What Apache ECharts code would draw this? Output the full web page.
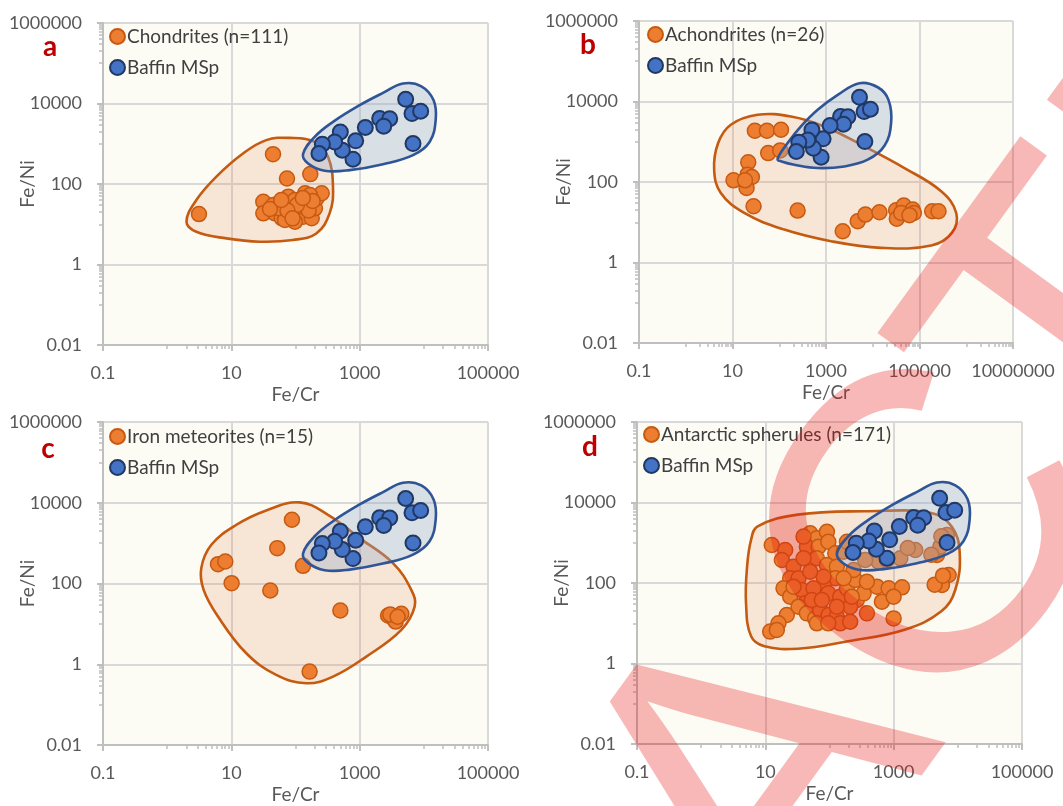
<!DOCTYPE html>
<html><head><meta charset="utf-8">
<script src="https://cdn.jsdelivr.net/npm/echarts@6/dist/echarts.min.js"></script>
<style>html,body{margin:0;padding:0;background:#fff}#c{width:1063px;height:806px}</style>
</head><body><div id="c"></div>
<script>
// ---- tick values ----
const xTicks = [0.1, 10, 1000, 100000];
const xTicksB = [0.1, 10, 1000, 100000, 10000000];
const yTicks = [0.01, 1, 100, 10000, 1000000];
const xMinor = [1, 2, 3, 4, 5, 6, 7, 8, 9, 100, 200, 300, 400, 500, 600, 700, 800, 900, 10000, 20000, 30000, 40000, 50000, 60000, 70000, 80000, 90000];
const xMinorB = [1, 2, 3, 4, 5, 6, 7, 8, 9, 100, 200, 300, 400, 500, 600, 700, 800, 900, 10000, 20000, 30000, 40000, 50000, 60000, 70000, 80000, 90000, 1000000, 2000000, 3000000, 4000000, 5000000, 6000000, 7000000, 8000000, 9000000];
const yMinor = [0.1, 0.2, 0.3, 0.4, 0.5, 0.6, 0.7, 0.8, 0.9, 10, 20, 30, 40, 50, 60, 70, 80, 90, 1000, 2000, 3000, 4000, 5000, 6000, 7000, 8000, 9000, 100000, 200000, 300000, 400000, 500000, 600000, 700000, 800000, 900000];

// ---- series names ----
const panelLetters = ['a', 'b', 'c', 'd'];
const groupNames = ['Chondrites (n=111)', 'Achondrites (n=26)', 'Iron meteorites (n=15)', 'Antarctic spherules (n=171)'];
const baffinName = 'Baffin MSp';
const watermarkText = 'RETRACTED';

// ---- data [Fe/Cr, Fe/Ni] ----
const baffin = [[5210,12760],[6540,5620],[8930,6440],[6780,1010],[2050,4230],[2940,4200],[2370,2730],[1225,2530],[867,1180],[787,414],[500,1970],[537,692],[408,1110],[262,975],[232,573]];

const chondrites = [[3.13,17.9],[44.6,551],[73.7,137],[170,176],[31.5,36.3],[31.5,18.7],[45,30],[47.9,18.7],[61,14.1],[77.3,48.4],[68.5,33],[87.3,27.3],[82,18.7],[98,40],[111,20.5],[141,58.8],[149,33],[132,15.4],[179,14.1],[201,24.9],[214,44.2],[256,58.8],[168,53.3],[98,11.6],[68.5,12.8],[55,25],[120,28],[160,22],[185,38],[105,30],[75,22],[40,24],[60,40],[130,45],[90,14]];

const achondrites = [[30.1,1880],[54.5,1880],[109,1990],[58,524],[105,610],[21.7,308],[10.5,110],[20.9,152],[26,133],[20,71],[28.2,25],[247,19.5],[2280,5.98],[4770,10.6],[6970,15.5],[13900,17.7],[31600,19.9],[32700,12.3],[46100,25.9],[71900,20.6],[75600,17],[187000,18.8],[255000,18.8],[40500,17],[18.5,110],[61000,15]];

const irons = [[88,3790],[52,751],[6.2,301],[8.05,351],[10.1,102],[40.5,67],[131,274],[500,21.4],[2770,16.1],[3300,13.8],[3640,11.4],[4460,17.7],[166,0.657],[3000,17],[3900,15]];

const spherules = [[12.6,879],[20.4,661],[18.1,372],[27.5,255],[24.4,131],[19.2,73.6],[24.4,45.7],[21.6,16],[16,9.96],[11.9,6.2],[15.1,6.8],[32.9,131],[37,67],[41.8,31.3],[32.9,25.8],[44.4,17.6],[59.8,13.2],[71.6,21.3],[96.6,16],[130,14.6],[147,9.96],[210,10.9],[50,1710],[63.5,1290],[91,1880],[44.4,800],[67.5,800],[95.7,1060],[123,546],[63.5,410],[91,280],[130,255],[123,131],[80.7,89],[56.4,73.6],[95.7,55.3],[147,45.7],[187,73.6],[252,119],[267,37.8],[383,17.6],[340,55.3],[237,210],[166,600],[187,1060],[548,81],[834,73.6],[1350,78],[656,34.4],[998,45.7],[998,13.2],[2170,661],[582,339],[785,372],[1270,410],[4730,497],[5330,800],[6780,1560],[7190,158],[5660,89],[360,372],[63.5,9.96],[95.7,9.96],[53,37.8],[76,37.8],[210,25.8],[39.4,1420],[80.7,144],[166,131],[39.4,410],[383,108],[27.5,81],[50,191],[223,45.7],[130,25.8],[1660,741],[3860,506],[5530,1450],[4350,91],[5870,152]];

// ---- hull outlines [Fe/Cr, Fe/Ni] ----
const hullBaffin = [[131,551],[199,1480],[384,3490],[1000,9060],[2310,18300],[4730,31300],[9140,26800],[14200,12000],[15300,3850],[12300,1110],[6780,520],[2310,311],[698,221],[285,213],[157,324]];
const hullBaffinB = [[92,372],[151,927],[291,2400],[663,6210],[1780,14600],[5180,28500],[12800,22600],[21700,11000],[24700,2900],[17800,796],[7810,358],[2470,244],[663,222],[210,269],[112,325]];
const hullChond = [[2.0,11.5],[2.85,40],[5.8,151],[15.2,573],[35,1230],[81,1400],[199,1110],[321,473],[384,85],[340,18.6],[211,5.9],[91,4.05],[27.7,3.68],[8.4,4.45],[2.85,6.5]];
const hullAchond = [[4.05,202],[4.93,927],[9.2,2640],[34.3,4670],[178,4250],[921,2400],[6630,766],[47700,222],[291000,58.8],[611000,17],[493000,5.45],[178000,2.64],[15100,2.31],[1280,3.38],[128,6.58],[17.8,17],[5.62,53.3]];
const hullIron = [[3.4,240],[4.88,910],[12,2850],[35,6460],[116,10200],[321,5040],[1000,1330],[3300,319],[6380,69.7],[7200,26.9],[4460,7.1],[1270,1.55],[384,0.494],[148,0.338],[50,0.545],[17.1,1.87],[6.2,15.2],[3.7,69.7]];
const hullSpher = [[7.6,2560],[32.1,4990],[352,6040],[3860,5480],[8110,2460],[10700,556],[9140,68],[5530,19.8],[1480,6.9],[194,3.56],[32.1,2.33],[9.7,2.67],[6.0,4.73],[5.0,31.8],[5.2,260],[6.0,1190]];

// ---- styling ----
const FONT = 'Lato, "Open Sans", sans-serif';
const ORANGE = '#ED7D31', ORANGE_EDGE = '#C55A11';
const BLUE = '#4472C4', BLUE_EDGE = '#203864';
const HULL_O_LINE = '#C55A11', HULL_O_FILL = 'rgba(230,140,90,0.2)';
const HULL_B_LINE = '#2F5597', HULL_B_FILL = 'rgba(150,170,200,0.35)';
const AXIS_C = '#BFBFBF', GRID_C = '#D9D9D9', LABEL_C = '#595959';

const grids = [
  {left:103, top:23, width:385, height:322},
  {left:639, top:21, width:374, height:322},
  {left:103, top:422, width:385, height:323},
  {left:637, top:422, width:385, height:322}
];
const xMax = [100000, 10000000, 100000, 100000];
const groups = [chondrites, achondrites, irons, spherules];
const orangeHulls = [hullChond, hullAchond, hullIron, hullSpher];
const blueHulls = [hullBaffin, hullBaffinB, hullBaffin, hullBaffin];
const legendPos = [[104,22],[642,20],[104,422],[638,420]];
const letterPos = [[50,47],[588,45],[48,449],[590,447]];

const fmt = v => String(+(+v).toPrecision(6));

const option = {
  backgroundColor: '#ffffff',
  animation: false,
  grid: grids.map(g => Object.assign({show:true, backgroundColor:'#FCFCF5', borderWidth:0, containLabel:false, outerBoundsMode:'none'}, g)),
  xAxis: [], yAxis: [], series: [], legend: [],
  graphic: []
};

for (let i = 0; i < 4; i++) {
  const xt = i === 1 ? xTicksB : xTicks;
  option.xAxis.push({
    type:'log', logBase:10, gridIndex:i, min:0.1, max:xMax[i], position:'bottom',
    name:'Fe/Cr', nameLocation:'middle', nameGap:40, nameMoveOverlap:false,
    nameTextStyle:{fontFamily:FONT, fontSize:19, color:LABEL_C},
    axisLine:{show:true, onZero:false, lineStyle:{color:AXIS_C, width:2}},
    axisTick:{show:true, customValues:xt, length:6, lineStyle:{color:AXIS_C, width:2}},
    axisLabel:{show:true, customValues:xt, formatter:fmt, margin:19, fontFamily:FONT, fontSize:18, color:LABEL_C},
    splitLine:{show:true, lineStyle:{color:GRID_C, width:2}},
    minorTick:{show:false}, minorSplitLine:{show:false}
  });
  option.yAxis.push({
    type:'log', logBase:10, gridIndex:i, min:0.01, max:1000000, position:'left',
    name:'Fe/Ni', nameLocation:'middle', nameGap:66, nameMoveOverlap:false,
    nameTextStyle:{fontFamily:FONT, fontSize:19, color:LABEL_C},
    axisLine:{show:true, onZero:false, lineStyle:{color:AXIS_C, width:2}},
    axisTick:{show:true, customValues:yTicks, length:6, lineStyle:{color:AXIS_C, width:2}},
    axisLabel:{show:true, customValues:yTicks, formatter:fmt, margin:21, fontFamily:FONT, fontSize:18, color:LABEL_C},
    splitLine:{show:true, lineStyle:{color:GRID_C, width:2}}
  });
}
for (let i = 0; i < 4; i++) {
  const xm = i === 1 ? xMinorB : xMinor;
  option.xAxis.push({
    type:'log', logBase:10, gridIndex:i, min:0.1, max:xMax[i], position:'bottom', offset:0,
    axisLine:{show:false}, axisLabel:{show:false}, splitLine:{show:false},
    axisTick:{show:true, customValues:xm, length:4, lineStyle:{color:AXIS_C, width:1.5}}
  });
  option.yAxis.push({
    type:'log', logBase:10, gridIndex:i, min:0.01, max:1000000, position:'left', offset:0,
    axisLine:{show:false}, axisLabel:{show:false}, splitLine:{show:false},
    axisTick:{show:true, customValues:yMinor, length:4, lineStyle:{color:AXIS_C, width:1.5}}
  });
}

function hull(points, idx, stroke, fill, z) {
  return {
    type:'custom', xAxisIndex:idx, yAxisIndex:idx, z:z, silent:true, clip:false,
    data: points,
    renderItem: function (params, api) {
      if (params.dataIndex !== 0) return null;
      return {
        type:'polygon',
        shape:{points: points.map(p => api.coord(p)), smooth:0.4},
        style:{fill:fill, stroke:stroke, lineWidth:2.6}
      };
    }
  };
}

for (let i = 0; i < 4; i++) {
  option.series.push(hull(orangeHulls[i], i, HULL_O_LINE, HULL_O_FILL, 1));
  option.series.push({
    type:'scatter', name:groupNames[i], xAxisIndex:i, yAxisIndex:i, z:2,
    data:groups[i], symbol:'circle', symbolSize:15,
    itemStyle:{color:ORANGE, borderColor:ORANGE_EDGE, borderWidth:1.5, opacity:1}
  });
  option.series.push(hull(blueHulls[i], i, HULL_B_LINE, HULL_B_FILL, 3));
  option.series.push({
    type:'scatter', name:baffinName, xAxisIndex:i, yAxisIndex:i, z:4,
    data:baffin, symbol:'circle', symbolSize:15,
    itemStyle:{color:BLUE, borderColor:BLUE_EDGE, borderWidth:2, opacity:1}
  });
  option.legend.push({
    left:legendPos[i][0], top:legendPos[i][1], orient:'vertical', itemGap:12,
    itemWidth:15, itemHeight:15, icon:'circle', selectedMode:false,
    data:[groupNames[i], baffinName],
    textStyle:{fontFamily:FONT, fontSize:19, color:'#404040', padding:[0,0,0,-3]}
  });
  option.graphic.push({
    type:'text', x:letterPos[i][0], y:letterPos[i][1], z:50, silent:true,
    style:{text:panelLetters[i], fill:'#C00000', font:'bold 28px ' + FONT, align:'center', verticalAlign:'middle'}
  });
}

// RETRACTED watermark: letters laid along a baseline rotated 54 degrees
(function () {
  const ang = 54 * Math.PI / 180;
  const ux = Math.cos(ang), uy = -Math.sin(ang);
  const size = 430;
  const adv = {R:0.722, E:0.667, T:0.611, A:0.667, C:0.722, D:0.722};
  const chars = watermarkText.split('');
  const anchorIdx = 4;            // the "A"
  const anchor = [766, 788];      // centre of the "A"
  let cum = 0; const centres = [];
  chars.forEach(ch => { centres.push(cum + adv[ch] / 2); cum += adv[ch]; });
  chars.forEach((ch, k) => {
    const off = (centres[k] - centres[anchorIdx]) * size + (k > 5 ? -30 : 0);
    option.graphic.push({
      type:'text', x:anchor[0] + off * ux, y:anchor[1] + off * uy, rotation:ang, z:100, silent:true,
      style:{text:ch, fill:'rgba(232,20,20,0.3)', font:size + 'px "Liberation Sans", Arial, sans-serif', align:'center', verticalAlign:'middle'}
    });
  });
})();

const chart = echarts.init(document.getElementById('c'), null, {renderer:'canvas'});
chart.setOption(option);
</script>
</body></html>
